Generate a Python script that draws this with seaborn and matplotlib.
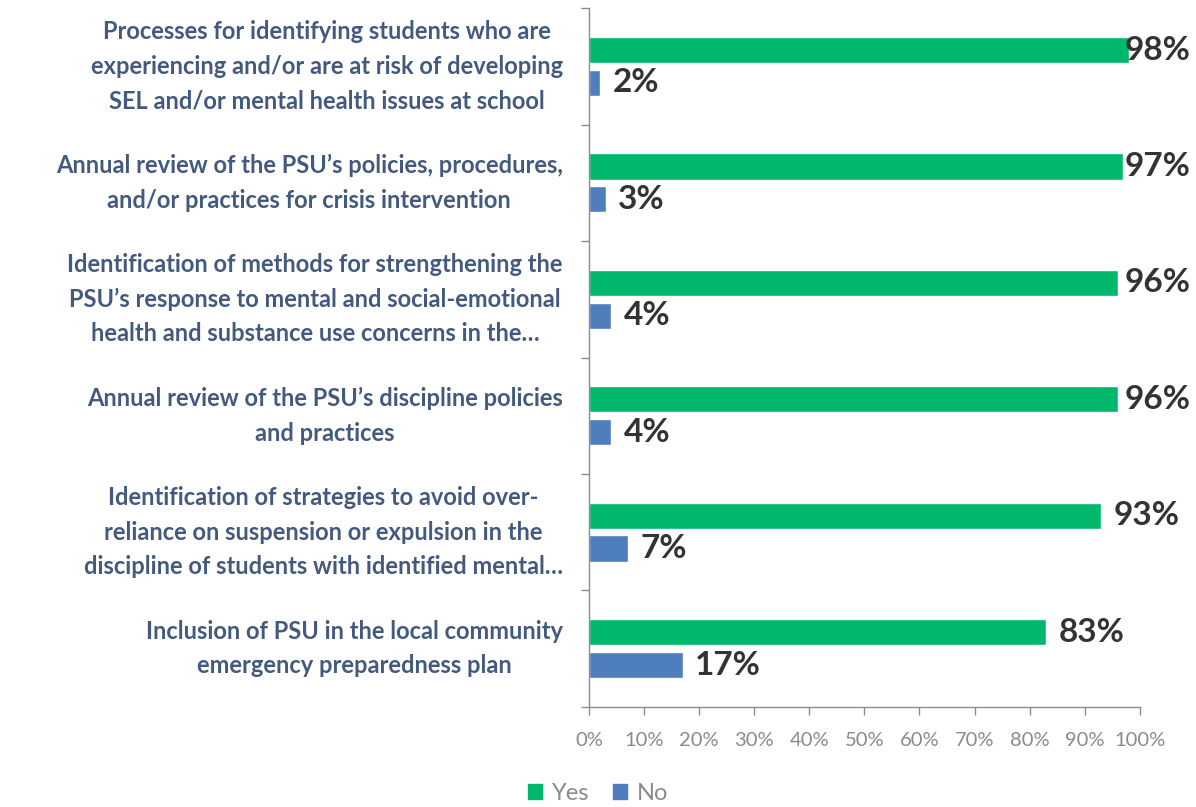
import pandas as pd
import numpy as np
import seaborn as sns
import matplotlib.pyplot as plt
from matplotlib.patches import Patch

# data
categories = [
    "Processes for identifying students who are\nexperiencing and/or are at risk of developing\nSEL and/or mental health issues at school",
    "Annual review of the PSU\u2019s policies, procedures,\nand/or practices for crisis intervention",
    "Identification of methods for strengthening the\nPSU\u2019s response to mental and social-emotional\nhealth and substance use concerns in the\u2026",
    "Annual review of the PSU\u2019s discipline policies\nand practices",
    "Identification of strategies to avoid over-\nreliance on suspension or expulsion in the\ndiscipline of students with identified mental\u2026",
    "Inclusion of PSU in the local community\nemergency preparedness plan",
]
yes_vals = [98, 97, 96, 96, 93, 83]
no_vals = [2, 3, 4, 4, 7, 17]
series = ["Yes", "No"]
x_ticks = [0, 10, 20, 30, 40, 50, 60, 70, 80, 90, 100]

df = pd.DataFrame({
    "category": categories * 2,
    "value": yes_vals + no_vals,
    "response": ["Yes"] * len(categories) + ["No"] * len(categories),
})

colors = {"Yes": "#00B86B", "No": "#4F7EBE"}
label_color = "#44597E"
axis_color = "#8C8C8C"

sns.set_theme(style="white")
plt.rcParams['font.family'] = ['Lato', 'DejaVu Sans']

fig = plt.figure(figsize=(11.96, 8.07), dpi=100)
ax = fig.add_axes([0.4925, 0.124, 0.4605, 0.866])

sns.barplot(data=df, x="value", y="category", hue="response", hue_order=series,
            order=categories, palette=colors, width=0.56, gap=0.2,
            orient="h", legend=False, ax=ax, saturation=1)

# value labels
for cont in ax.containers:
    for bar in cont:
        v = bar.get_width()
        yc = bar.get_y() + bar.get_height() / 2
        ax.text(min(v + 2.3, 97.2), yc, f"{v:.0f}%", ha="left", va="center",
                fontsize=24, fontweight="bold", color="#333333", clip_on=False)

ax.set_xlim(0, 100)
ax.set_ylim(len(categories) - 0.5, -0.5)
ax.set_xticks(x_ticks)
ax.set_xticklabels([f"{t}%" for t in x_ticks], fontsize=14.5, color="#8A8A8A")
ax.set_yticks(range(len(categories)))
ax.set_yticklabels(categories, fontsize=17, fontweight="bold", color=label_color,
                   multialignment="center", linespacing=1.6)
for lab in ax.get_yticklabels():
    lab.set_verticalalignment("center")
ax.set_yticks(np.arange(-0.5, len(categories), 1), minor=True)
ax.tick_params(axis="y", which="major", length=0, pad=19)
ax.tick_params(axis="y", which="minor", length=6, color=axis_color, width=1, left=True)
ax.tick_params(axis="x", length=6, color=axis_color, width=1, bottom=True, pad=12)
ax.set_xlabel("")
ax.set_ylabel("")

for s in ["top", "right"]:
    ax.spines[s].set_visible(False)
for s in ["left", "bottom"]:
    ax.spines[s].set_color(axis_color)
    ax.spines[s].set_linewidth(1)

handles = [Patch(color=colors[s], label=s) for s in series]
fig.legend(handles=handles, loc="lower center", bbox_to_anchor=(0.5, -0.022), ncol=2,
           frameon=False, fontsize=17, handlelength=0.6, handleheight=0.6,
           handletextpad=0.4, columnspacing=1.0, labelcolor="#8A8A8A")

fig.savefig("out.png", dpi=100)
